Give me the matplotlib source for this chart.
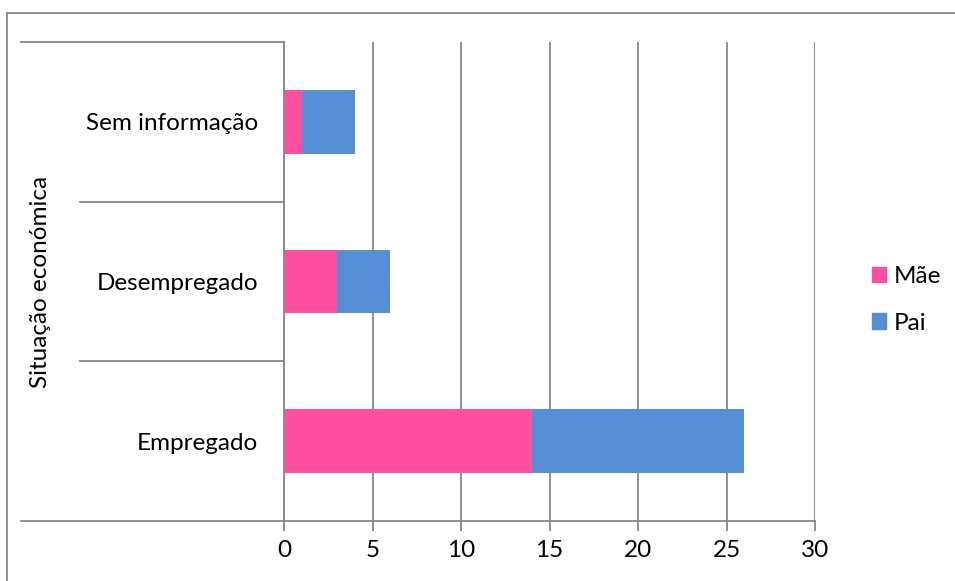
import numpy as np
import matplotlib.pyplot as plt
from matplotlib.patches import Rectangle, Patch

plt.rcParams['font.family'] = ['Lato', 'DejaVu Sans']

categories = ["Empregado", "Desempregado", "Sem informação"]
mae = [14, 3, 1]
pai = [12, 3, 3]
x_ticks = [0, 5, 10, 15, 20, 25, 30]

pink = '#FF4FA3'
blue = '#558ED5'
grid_col = '#878787'
fs = 17.5

W, H = 955, 581
fig = plt.figure(figsize=(W / 100, H / 100), dpi=100)

# plot area in pixel coords of the reference
x0, x1, y_top, y_bot = 284, 815, 42, 521
ax = fig.add_axes([x0 / W, 1 - y_bot / H, (x1 - x0) / W, (y_bot - y_top) / H])

y = np.arange(len(categories))
ax.barh(y, mae, height=0.4, color=pink, label="Mãe")
ax.barh(y, pai, left=mae, height=0.4, color=blue, label="Pai")

ax.set_xlim(0, 30)
ax.set_ylim(-0.5, len(categories) - 0.5)
ax.set_xticks(x_ticks)
ax.set_yticks(y)
ax.set_yticklabels(categories)
ax.tick_params(axis='y', length=0, pad=18.5, labelsize=fs)
ax.tick_params(axis='x', length=7, width=1.3, color=grid_col, pad=7, labelsize=fs)

ax.xaxis.grid(True, color=grid_col, linewidth=1.3)
ax.set_axisbelow(True)
for s in ['top', 'right']:
    ax.spines[s].set_visible(False)
for s in ['left', 'bottom']:
    ax.spines[s].set_color(grid_col)
    ax.spines[s].set_linewidth(1.3)

# category divider lines extending left into the label area
trans = ax.get_yaxis_transform()
outer = (21 - x0) / (x1 - x0)
inner = (80 - x0) / (x1 - x0)
bounds = np.arange(-0.5, len(categories), 1.0)
for i, b in enumerate(bounds):
    start = outer if i in (0, len(bounds) - 1) else inner
    ax.plot([start, 0], [b, b], transform=trans, color=grid_col, lw=1.3, clip_on=False)

ax.set_ylabel("Situação económica", fontsize=fs)
ax.yaxis.set_label_coords((51 - x0) / (x1 - x0), 0.5)

handles = [Patch(color=pink, label="Mãe"), Patch(color=blue, label="Pai")]
fig.legend(handles=handles, loc='center left', bbox_to_anchor=(850 / W, 1 - 300 / H),
           frameon=False, fontsize=fs, handlelength=0.6, handleheight=0.6,
           handletextpad=0.3, labelspacing=1.05)

# outer chart border
fig.add_artist(Rectangle((7 / W, -0.1), 1.2, (H - 13) / H + 0.1, transform=fig.transFigure,
                         fill=False, edgecolor=grid_col, lw=1.3))

fig.savefig("out.png", dpi=100)
